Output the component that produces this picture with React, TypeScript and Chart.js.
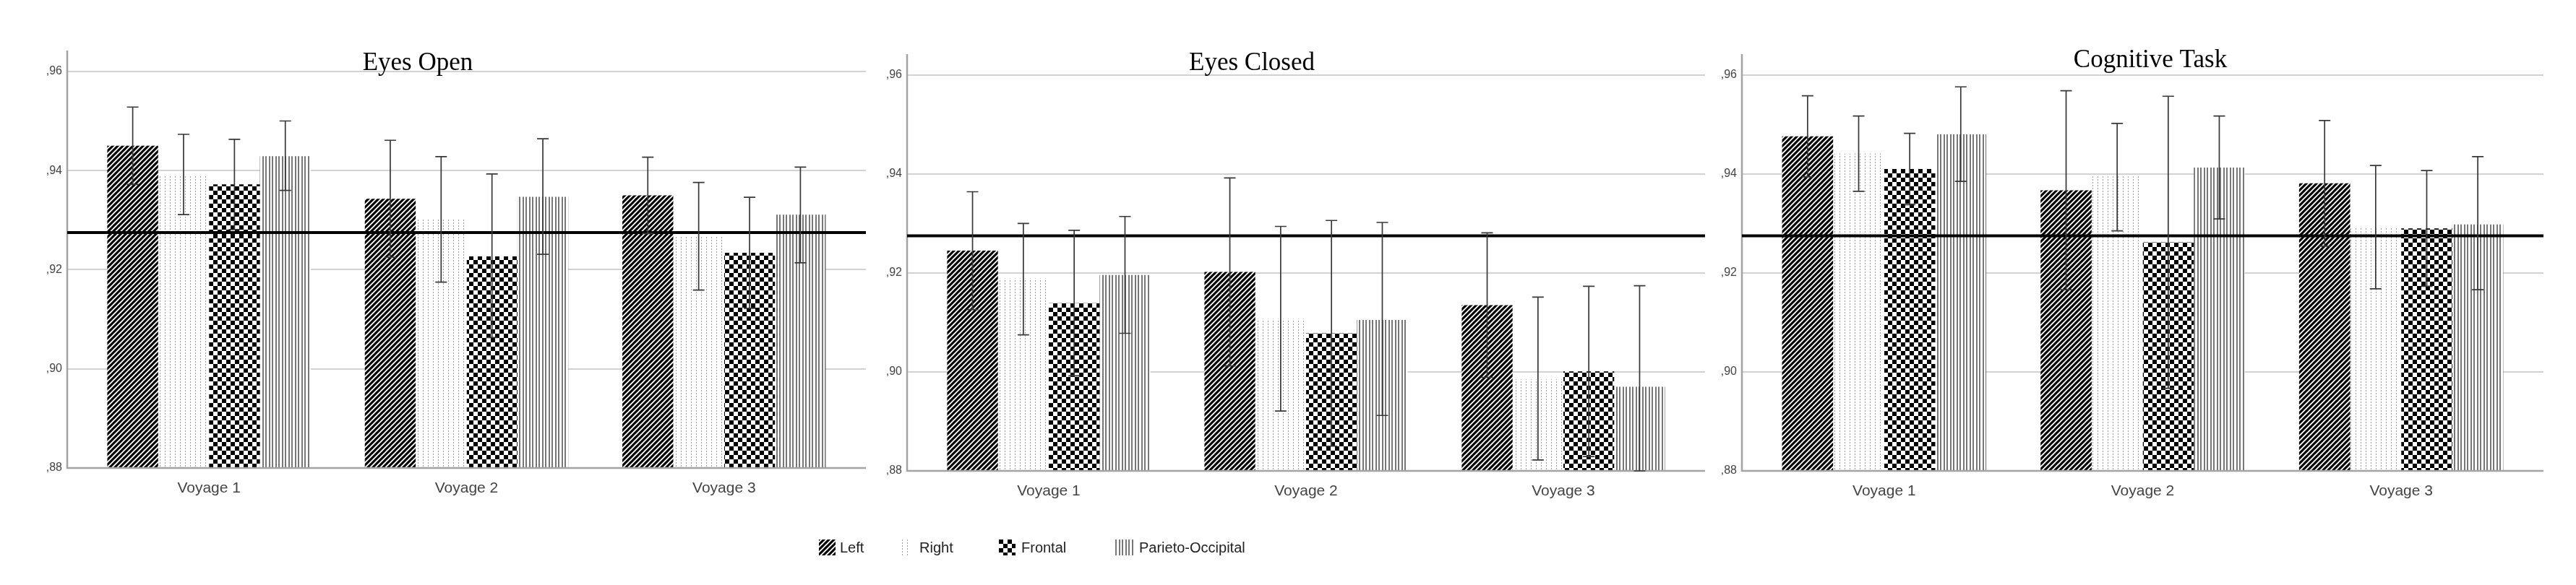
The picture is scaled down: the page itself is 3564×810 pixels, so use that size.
import React, { useEffect, useRef } from 'react';
import { Chart, registerables } from 'chart.js';

Chart.register(...registerables);

// ---------------- data ----------------
const categories = ['Voyage 1', 'Voyage 2', 'Voyage 3'];
const seriesNames = ['Left', 'Right', 'Frontal', 'Parieto-Occipital'];
const panelTitles = ['Eyes Open', 'Eyes Closed', 'Cognitive Task'];
const yTickValues = [0.88, 0.9, 0.92, 0.94, 0.96];
const referenceValue = 0.9275;

// Eyes Open: means, upper and lower error-bar ends
const openLeft = [0.945, 0.9343, 0.935];
const openLeftHigh = [0.9528, 0.9461, 0.9427];
const openLeftLow = [0.9372, 0.9225, 0.9273];
const openRight = [0.9391, 0.9301, 0.9267];
const openRightHigh = [0.9473, 0.9428, 0.9376];
const openRightLow = [0.9311, 0.9175, 0.9159];
const openFrontal = [0.9372, 0.9227, 0.9234];
const openFrontalHigh = [0.9463, 0.9393, 0.9346];
const openFrontalLow = [0.9281, 0.9063, 0.9122];
const openParieto = [0.9429, 0.9347, 0.9311];
const openParietoHigh = [0.95, 0.9464, 0.9407];
const openParietoLow = [0.936, 0.9231, 0.9214];

// Eyes Closed
const closedLeft = [0.9245, 0.9202, 0.9135];
const closedLeftHigh = [0.9364, 0.9392, 0.9281];
const closedLeftLow = [0.9126, 0.9012, 0.8989];
const closedRight = [0.9189, 0.9107, 0.8985];
const closedRightHigh = [0.93, 0.9294, 0.9151];
const closedRightLow = [0.9075, 0.8921, 0.8822];
const closedFrontal = [0.9139, 0.9078, 0.9001];
const closedFrontalHigh = [0.9286, 0.9306, 0.9173];
const closedFrontalLow = [0.8992, 0.885, 0.8829];
const closedParieto = [0.9196, 0.9105, 0.897];
const closedParietoHigh = [0.9314, 0.9302, 0.9174];
const closedParietoLow = [0.9078, 0.8912, 0.8766];

// Cognitive Task
const taskLeft = [0.9476, 0.9367, 0.9381];
const taskLeftHigh = [0.9558, 0.9568, 0.9508];
const taskLeftLow = [0.9394, 0.9166, 0.9254];
const taskRight = [0.9441, 0.9395, 0.9292];
const taskRightHigh = [0.9517, 0.9502, 0.9417];
const taskRightLow = [0.9365, 0.9285, 0.9168];
const taskFrontal = [0.941, 0.9262, 0.929];
const taskFrontalHigh = [0.9482, 0.9557, 0.9407];
const taskFrontalLow = [0.9338, 0.8967, 0.9173];
const taskParieto = [0.948, 0.9413, 0.9298];
const taskParietoHigh = [0.9576, 0.9517, 0.9435];
const taskParietoLow = [0.9385, 0.9309, 0.9166];

const panels = [
  {
    title: panelTitles[0],
    means: [openLeft, openRight, openFrontal, openParieto],
    highs: [openLeftHigh, openRightHigh, openFrontalHigh, openParietoHigh],
    lows: [openLeftLow, openRightLow, openFrontalLow, openParietoLow],
  },
  {
    title: panelTitles[1],
    means: [closedLeft, closedRight, closedFrontal, closedParieto],
    highs: [closedLeftHigh, closedRightHigh, closedFrontalHigh, closedParietoHigh],
    lows: [closedLeftLow, closedRightLow, closedFrontalLow, closedParietoLow],
  },
  {
    title: panelTitles[2],
    means: [taskLeft, taskRight, taskFrontal, taskParieto],
    highs: [taskLeftHigh, taskRightHigh, taskFrontalHigh, taskParietoHigh],
    lows: [taskLeftLow, taskRightLow, taskFrontalLow, taskParietoLow],
  },
];

// ---------------- layout ----------------
const PAGE_W = 3564;
const PAGE_H = 810;
const SIDE_PAD = 18;
const Y_AXIS_W = 68;
const Y_MIN = 0.88;
const Y_MAX = 0.9642;

const layouts = [
  { axisX: 93, rightX: 1198, top: 70, bottom: 648, titleX: 578, titleBase: 97 },
  { axisX: 1255, rightX: 2359, top: 75, bottom: 652, titleX: 1732, titleBase: 97 },
  { axisX: 2410, rightX: 3519, top: 75, bottom: 652, titleX: 2975, titleBase: 93 },
];

const legendSwatchX = [1133, 1245, 1382, 1543];
const legendSwatchW = [23, 12, 23, 27];
const legendTextX = [1162, 1272, 1413, 1576];
const LEGEND_CY = 758;

const SANS = "'Liberation Sans', Arial, Helvetica, sans-serif";
const NARROW = "'Liberation Sans Narrow', 'Liberation Sans', Arial, sans-serif";
const SERIF = "'Liberation Serif', 'Times New Roman', Times, serif";

// ---------------- patterns ----------------
function makePattern(ctx: CanvasRenderingContext2D, kind: number): CanvasPattern | string {
  const t = document.createElement('canvas');
  const g = t.getContext('2d')!;
  if (kind === 0) {
    // diagonal black stripes "/"
    const s = 7;
    t.width = s; t.height = s;
    g.fillStyle = '#fff'; g.fillRect(0, 0, s, s);
    g.strokeStyle = '#000'; g.lineWidth = 3.1;
    g.beginPath();
    for (const o of [-s, 0, s]) { g.moveTo(o - 1, s + 1); g.lineTo(o + s + 1, -1); }
    g.stroke();
  } else if (kind === 1) {
    // sparse light dotted vertical lines
    t.width = 7; t.height = 4;
    g.fillStyle = '#fff'; g.fillRect(0, 0, 7, 4);
    g.fillStyle = '#9c9c9c'; g.fillRect(3, 0, 1, 2);
  } else if (kind === 2) {
    // checkerboard
    const s = 6;
    t.width = 2 * s; t.height = 2 * s;
    g.fillStyle = '#fff'; g.fillRect(0, 0, 2 * s, 2 * s);
    g.fillStyle = '#000'; g.fillRect(0, 0, s, s); g.fillRect(s, s, s, s);
  } else {
    // gray vertical lines
    t.width = 9; t.height = 4;
    g.fillStyle = '#fff'; g.fillRect(0, 0, 9, 4);
    g.fillStyle = '#777'; g.fillRect(0, 0, 2, 4); g.fillRect(5, 0, 2, 4);
  }
  return ctx.createPattern(t, 'repeat') || '#888';
}

// ---------------- panel ----------------
function Panel({ index }: { index: number }) {
  const ref = useRef<HTMLCanvasElement>(null);
  const L = layouts[index];
  const P = panels[index];
  const canvasLeft = L.axisX - 50;
  const canvasWidth = L.rightX + 5 - canvasLeft;

  useEffect(() => {
    const canvas = ref.current!;
    const ctx = canvas.getContext('2d')!;
    const patterns = seriesNames.map((_, i) => makePattern(ctx, i));

    const decor = {
      id: 'decor' + index,
      beforeDatasetsDraw(chart: any) {
        const c = chart.ctx;
        const a = chart.chartArea;
        const y = chart.scales.y;
        const l = a.left - SIDE_PAD;
        const r = a.right + SIDE_PAD;
        c.save();
        c.strokeStyle = '#d2d2d2';
        c.lineWidth = 2;
        y.ticks.forEach((t: any) => {
          if (t.value <= Y_MIN + 1e-9) return;
          const py = Math.round(y.getPixelForValue(t.value));
          c.beginPath(); c.moveTo(l, py); c.lineTo(r, py); c.stroke();
        });
        c.restore();
      },
      afterDatasetsDraw(chart: any) {
        const c = chart.ctx;
        const a = chart.chartArea;
        const y = chart.scales.y;
        const l = a.left - SIDE_PAD;
        const r = a.right + SIDE_PAD;
        c.save();
        // axes
        c.strokeStyle = '#a3a3a3';
        c.lineWidth = 2.5;
        c.beginPath(); c.moveTo(l, a.top); c.lineTo(l, a.bottom + 1); c.stroke();
        c.beginPath(); c.moveTo(l, a.bottom); c.lineTo(r, a.bottom); c.stroke();
        // reference line
        const ry = y.getPixelForValue(referenceValue);
        c.strokeStyle = '#000';
        c.lineWidth = 4;
        c.beginPath(); c.moveTo(l, ry); c.lineTo(r, ry); c.stroke();
        // error bars
        c.strokeStyle = '#383838';
        c.lineWidth = 1.7;
        const cap = 8;
        seriesNames.forEach((_, i) => {
          const meta = chart.getDatasetMeta(i);
          meta.data.forEach((bar: any, j: number) => {
            const x = bar.x;
            const yh = y.getPixelForValue(P.highs[i][j]);
            const yl = Math.min(y.getPixelForValue(P.lows[i][j]), a.bottom);
            c.beginPath();
            c.moveTo(x, yh); c.lineTo(x, yl);
            c.moveTo(x - cap, yh); c.lineTo(x + cap, yh);
            c.moveTo(x - cap, yl); c.lineTo(x + cap, yl);
            c.stroke();
          });
        });
        // title
        c.fillStyle = '#000';
        c.font = `35px ${SERIF}`;
        c.textAlign = 'center';
        c.textBaseline = 'alphabetic';
        c.fillText(P.title, L.titleX - canvasLeft, L.titleBase);
        c.restore();
      },
    };

    const chart = new Chart(canvas, {
      type: 'bar',
      data: {
        labels: categories,
        datasets: seriesNames.map((name, i) => ({
          label: name,
          data: P.means[i],
          backgroundColor: patterns[i] as any,
          borderWidth: 0,
          categoryPercentage: 0.79,
          barPercentage: 1,
        })),
      },
      options: {
        animation: false,
        responsive: false,
        devicePixelRatio: 1,
        layout: { padding: { left: 0, right: 5 + SIDE_PAD, top: L.top, bottom: 0 } },
        plugins: {
          legend: { display: false },
          tooltip: { enabled: false },
          title: { display: false },
        },
        scales: {
          x: {
            grid: { display: false },
            border: { display: false },
            ticks: { color: '#444', font: { family: SANS, size: 21 }, padding: 8, maxRotation: 0 },
            afterFit: (s: any) => { s.height = PAGE_H - L.bottom; },
          },
          y: {
            min: Y_MIN,
            max: Y_MAX,
            grid: { display: false, drawTicks: false },
            border: { display: false },
            afterBuildTicks: (s: any) => { s.ticks = yTickValues.map((v) => ({ value: v })); },
            afterFit: (s: any) => { s.width = Y_AXIS_W; },
            ticks: {
              padding: SIDE_PAD + 7,
              color: '#444',
              font: { family: NARROW, size: 16 },
              callback: (v: any) => ',' + String(Math.round(Number(v) * 100)),
            },
          },
        },
      },
      plugins: [decor],
    });
    return () => chart.destroy();
  }, []);

  return (
    <canvas
      ref={ref}
      width={canvasWidth}
      height={PAGE_H}
      style={{ position: 'absolute', left: canvasLeft, top: 0, width: canvasWidth, height: PAGE_H }}
    />
  );
}

// ---------------- legend ----------------
function Legend() {
  const refs = useRef<(HTMLCanvasElement | null)[]>([]);
  useEffect(() => {
    refs.current.forEach((cv, i) => {
      if (!cv) return;
      const ctx = cv.getContext('2d')!;
      ctx.clearRect(0, 0, cv.width, cv.height);
      ctx.fillStyle = makePattern(ctx, i) as any;
      ctx.fillRect(0, 0, cv.width, cv.height);
    });
  }, []);
  return (
    <>
      {seriesNames.map((name, i) => (
        <React.Fragment key={name}>
          <canvas
            ref={(el) => { refs.current[i] = el; }}
            width={legendSwatchW[i]}
            height={22}
            style={{ position: 'absolute', left: legendSwatchX[i], top: LEGEND_CY - 11, width: legendSwatchW[i], height: 22 }}
          />
          <div
            style={{
              position: 'absolute',
              left: legendTextX[i],
              top: LEGEND_CY - 13,
              height: 26,
              lineHeight: '26px',
              fontFamily: SANS,
              fontSize: 20,
              color: '#222',
              whiteSpace: 'nowrap',
            }}
          >
            {name}
          </div>
        </React.Fragment>
      ))}
    </>
  );
}

export default function App() {
  return (
    <div
      style={{
        position: 'absolute',
        left: 0,
        top: 0,
        width: PAGE_W,
        height: PAGE_H,
        background: '#fff',
        overflow: 'hidden',
      }}
    >
      {layouts.map((_, i) => (
        <Panel key={i} index={i} />
      ))}
      <Legend />
    </div>
  );
}
